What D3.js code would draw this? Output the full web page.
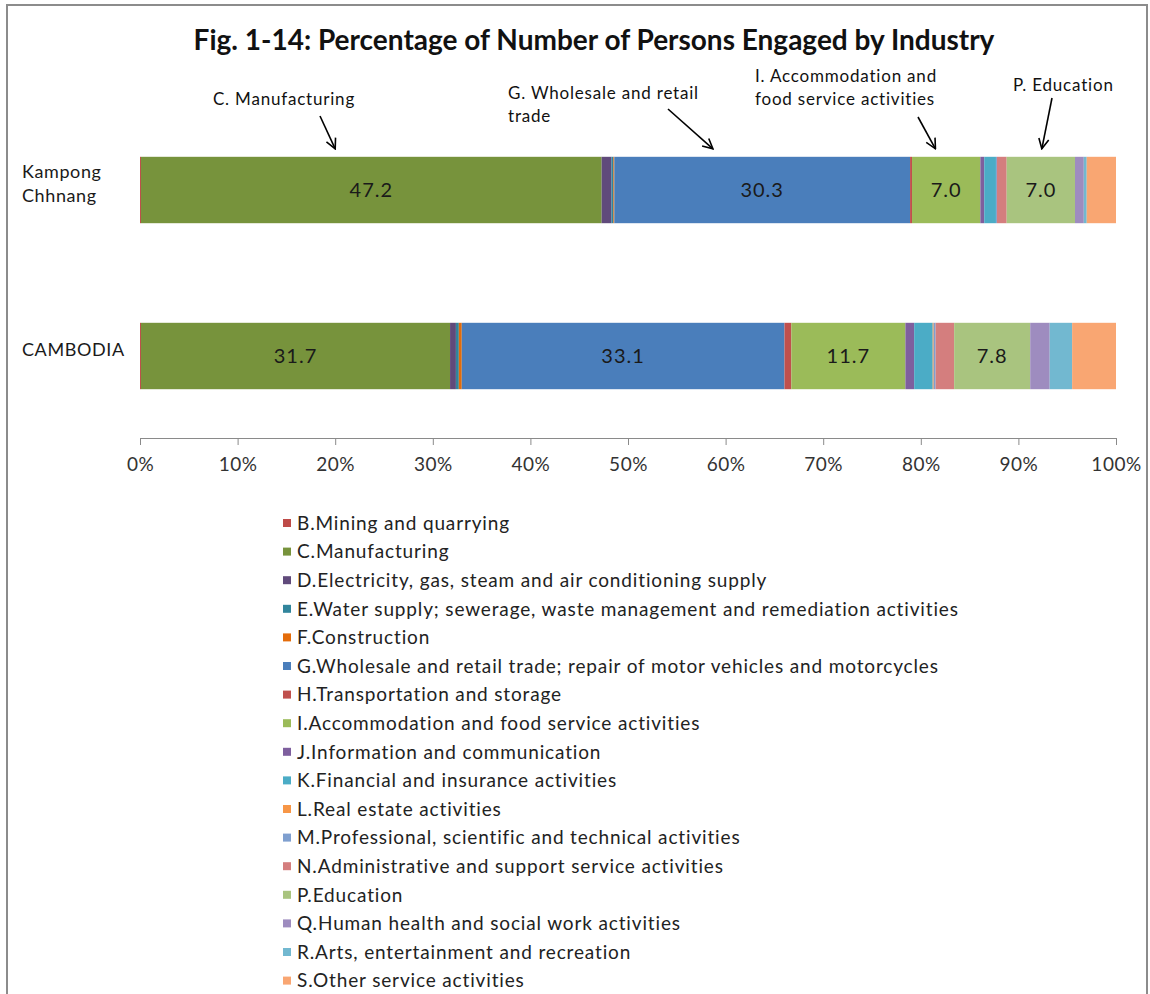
<!DOCTYPE html>
<html>
<head>
<meta charset="utf-8">
<script src="https://cdn.jsdelivr.net/npm/d3@7.9.0/dist/d3.min.js"></script>
<style>
  body { margin: 0; background: #fff; }
  svg { display: block; font-family: Lato, "Open Sans", sans-serif; }
</style>
</head>
<body>
<div id="chart"></div>
<script>
// regions (rows of the chart)
const regions = ["Kampong Chhnang", "CAMBODIA"];

// industries, in stacking order
const industries = [
  "B.Mining and quarrying",
  "C.Manufacturing",
  "D.Electricity, gas, steam and air conditioning supply",
  "E.Water supply; sewerage, waste management and remediation activities",
  "F.Construction",
  "G.Wholesale and retail trade; repair of motor vehicles and motorcycles",
  "H.Transportation and storage",
  "I.Accommodation and food service activities",
  "J.Information and communication",
  "K.Financial and insurance activities",
  "L.Real estate activities",
  "M.Professional, scientific and technical activities",
  "N.Administrative and support service activities",
  "P.Education",
  "Q.Human health and social work activities",
  "R.Arts, entertainment and recreation",
  "S.Other service activities"
];

// percent shares, same order as industries
const kampongValues  = [0.1, 47.2, 1.0, 0.2, 0.1, 30.3, 0.2, 7.0, 0.4, 1.2, 0.0, 0.1, 1.0, 7.0, 0.9, 0.3, 3.0];
const cambodiaValues = [0.1, 31.7, 0.6, 0.3, 0.3, 33.1, 0.7, 11.7, 0.9, 1.9, 0.1, 0.2, 1.9, 7.8, 2.0, 2.3, 4.5];

// only these segments get a value label
const labelled = ["C.Manufacturing", "G.Wholesale and retail trade; repair of motor vehicles and motorcycles",
  "I.Accommodation and food service activities", "P.Education"];

const colors = ["#BE4B48", "#77933C", "#604A7B", "#31859C", "#E46C0A", "#4A7EBB", "#C0504D", "#9BBB59",
  "#7E5F9E", "#4BACC6", "#F79646", "#7F9FCF", "#D47E7E", "#A9C47F", "#9E8CBF", "#72B8D0", "#F9A672"];

const tickValues = [0, 0.1, 0.2, 0.3, 0.4, 0.5, 0.6, 0.7, 0.8, 0.9, 1];

// callouts over the Kampong Chhnang bar (target = percent position on the axis)
const callouts = [
  { lines: ["C. Manufacturing"], target: 20.0 },
  { lines: ["G. Wholesale and retail", "trade"], target: 58.7 },
  { lines: ["I. Accommodation and", "food service activities"], target: 81.5 },
  { lines: ["P. Education"], target: 92.4 }
];
// where each callout's text and arrow start sit
const calloutLayout = [
  { tx: 284, ty: 105, anchor: "middle", ax: 320, ay: 116 },
  { tx: 508, ty: 99, anchor: "start", ax: 668, ay: 109 },
  { tx: 755, ty: 82, anchor: "start", ax: 918, ay: 117 },
  { tx: 1013, ty: 91, anchor: "start", ax: 1052, ay: 98 }
];

const width = 1150, height = 994;

const svg = d3.select("#chart").append("svg")
  .attr("width", width)
  .attr("height", height);

// frame
svg.append("path")
  .attr("d", `M7,${height + 5} V5 H1147 V${height + 5}`)
  .attr("fill", "none")
  .attr("stroke", "#8c8c8c")
  .attr("stroke-width", 2);

// title
svg.append("text")
  .attr("x", 594)
  .attr("y", 50)
  .attr("text-anchor", "middle")
  .attr("font-size", 28)
  .attr("font-weight", "bold")
  .attr("fill", "#111")
  .text("Fig. 1-14: Percentage of Number of Persons Engaged by Industry");

const rows = regions.map((r, i) => {
  const vals = i === 0 ? kampongValues : cambodiaValues;
  const o = { region: r };
  industries.forEach((k, j) => o[k] = vals[j]);
  return o;
});

const series = d3.stack()
  .keys(industries)
  .offset(d3.stackOffsetExpand)(rows);

const x = d3.scaleLinear().domain([0, 1]).range([140, 1116]);
const y = d3.scaleBand().domain(regions).range([107, 439]).paddingInner(0.6).paddingOuter(0.3);
const color = d3.scaleOrdinal().domain(industries).range(colors);

const groups = svg.append("g").selectAll("g")
  .data(series)
  .join("g")
  .attr("fill", d => color(d.key));

groups.selectAll("rect")
  .data(d => d.map(p => Object.assign(p, { key: d.key })))
  .join("rect")
  .attr("x", d => x(d[0]))
  .attr("y", d => y(d.data.region))
  .attr("width", d => Math.max(0, x(d[1]) - x(d[0])))
  .attr("height", y.bandwidth());

// value labels
groups.filter(d => labelled.includes(d.key))
  .selectAll("text")
  .data(d => d)
  .join("text")
  .attr("x", d => (x(d[0]) + x(d[1])) / 2)
  .attr("y", d => y(d.data.region) + y.bandwidth() / 2)
  .attr("dy", "0.36em")
  .attr("text-anchor", "middle")
  .attr("font-size", 20)
  .attr("letter-spacing", 1)
  .attr("fill", "#1a1a1a")
  .text(d => d.data[d.key].toFixed(1));

// row labels
svg.append("g").selectAll("text")
  .data(regions)
  .join("text")
  .attr("x", 22)
  .attr("y", d => y(d) + y.bandwidth() / 2)
  .attr("font-size", 18)
  .attr("letter-spacing", 0.6)
  .attr("fill", "#1a1a1a")
  .each(function(d) {
    const words = d === "Kampong Chhnang" ? ["Kampong", "Chhnang"] : [d];
    const t = d3.select(this);
    words.forEach((w, i) => {
      t.append("tspan")
        .attr("x", 22)
        .attr("dy", i === 0 ? (words.length > 1 ? "-0.64em" : "0em") : "1.32em")
        .text(w);
    });
  });

// axis
const axis = svg.append("g")
  .attr("transform", "translate(0,438)")
  .call(d3.axisBottom(x).tickValues(tickValues).tickFormat(d3.format(".0%")).tickSize(7).tickPadding(13));
axis.select(".domain").attr("stroke", "#8a8a8a");
axis.selectAll(".tick line").attr("stroke", "#8a8a8a");
axis.selectAll(".tick text")
  .attr("font-family", "Lato, sans-serif")
  .attr("font-size", 19)
  .attr("letter-spacing", 0.5)
  .attr("fill", "#333");

// arrows
svg.append("defs").append("marker")
  .attr("id", "arrowhead")
  .attr("viewBox", "0 0 12 12")
  .attr("refX", 11)
  .attr("refY", 6)
  .attr("markerWidth", 12)
  .attr("markerHeight", 12)
  .attr("markerUnits", "userSpaceOnUse")
  .attr("orient", "auto")
  .append("path")
  .attr("d", "M1,1 L11,6 L1,11")
  .attr("fill", "none")
  .attr("stroke", "#000")
  .attr("stroke-width", 1.6);

const barTop = y(regions[0]);
const co = svg.append("g");
callouts.forEach((c, i) => {
  const L = calloutLayout[i];
  const t = co.append("text")
    .attr("x", L.tx)
    .attr("y", L.ty)
    .attr("text-anchor", L.anchor)
    .attr("font-size", 17)
    .attr("letter-spacing", 0.8)
    .attr("fill", "#111");
  c.lines.forEach((ln, j) => {
    t.append("tspan").attr("x", L.tx).attr("dy", j === 0 ? 0 : 23).text(ln);
  });
  co.append("line")
    .attr("x1", L.ax)
    .attr("y1", L.ay)
    .attr("x2", x(c.target / 100))
    .attr("y2", barTop - 8)
    .attr("stroke", "#000")
    .attr("stroke-width", 1.6)
    .attr("marker-end", "url(#arrowhead)");
});

// legend
const legend = svg.append("g").attr("transform", "translate(283,523)");
const item = legend.selectAll("g")
  .data(industries)
  .join("g")
  .attr("transform", (d, i) => `translate(0,${i * 28.6})`);
item.append("rect")
  .attr("x", 0)
  .attr("y", -4)
  .attr("width", 8)
  .attr("height", 8)
  .attr("fill", d => color(d));
item.append("text")
  .attr("x", 14)
  .attr("dy", "0.36em")
  .attr("font-size", 19)
  .attr("letter-spacing", 0.85)
  .attr("fill", "#222")
  .text(d => d);
</script>
</body>
</html>
